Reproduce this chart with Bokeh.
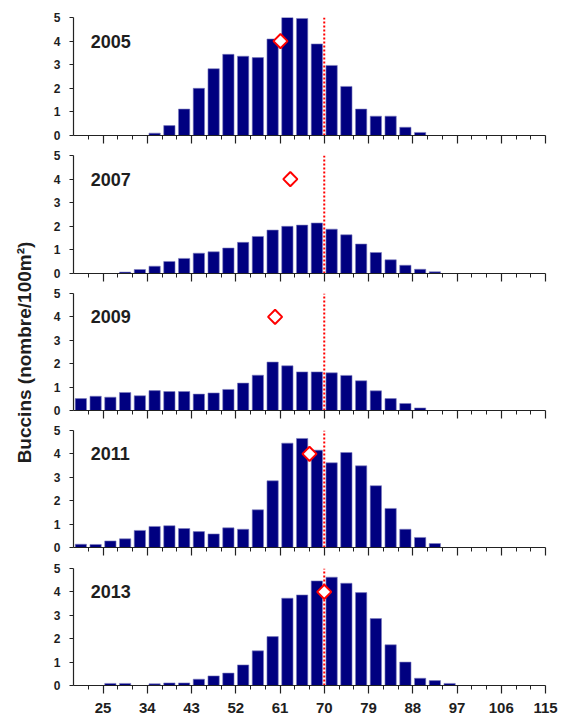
from math import pi
from bokeh.plotting import figure
from bokeh.layouts import column, row
from bokeh.models import Range1d, FixedTicker, Label
from bokeh.embed import file_html
from bokeh.resources import INLINE
from bokeh.core.properties import value

# ---------------- data ----------------
size_classes = [20.5, 23.5, 26.5, 29.5, 32.5, 35.5, 38.5, 41.5, 44.5, 47.5,
                50.5, 53.5, 56.5, 59.5, 62.5, 65.5, 68.5, 71.5, 74.5, 77.5,
                80.5, 83.5, 86.5, 89.5, 92.5, 95.5, 98.5, 101.5, 104.5, 107.5,
                110.5, 113.5]

years = ["2005", "2007", "2009", "2011", "2013"]

d2005 = [0, 0, 0, 0, 0, 0.10, 0.42, 1.12, 2.00, 2.83,
         3.44, 3.36, 3.30, 4.09, 5.00, 4.96, 3.88, 2.97, 2.08, 1.12,
         0.82, 0.82, 0.35, 0.13, 0, 0, 0, 0, 0, 0,
         0, 0]
d2007 = [0, 0, 0, 0.06, 0.17, 0.31, 0.51, 0.64, 0.86, 0.92,
         1.08, 1.32, 1.57, 1.84, 2.00, 2.05, 2.14, 1.88, 1.64, 1.25,
         0.89, 0.58, 0.35, 0.18, 0.07, 0, 0, 0, 0, 0,
         0, 0]
d2009 = [0.51, 0.61, 0.57, 0.77, 0.63, 0.85, 0.81, 0.81, 0.70, 0.75,
         0.90, 1.17, 1.51, 2.07, 1.91, 1.65, 1.65, 1.61, 1.50, 1.27,
         0.84, 0.51, 0.30, 0.11, 0, 0, 0, 0, 0, 0,
         0, 0]
d2011 = [0.14, 0.13, 0.28, 0.37, 0.73, 0.90, 0.93, 0.81, 0.68, 0.58,
         0.84, 0.78, 1.61, 2.85, 4.46, 4.66, 4.16, 3.62, 4.06, 3.49,
         2.64, 1.67, 0.78, 0.43, 0.17, 0, 0, 0, 0, 0,
         0, 0]
d2013 = [0, 0, 0.09, 0.09, 0, 0.07, 0.11, 0.11, 0.27, 0.41,
         0.53, 0.88, 1.48, 2.09, 3.73, 3.87, 4.47, 4.63, 4.37, 3.97,
         2.86, 1.74, 1.00, 0.31, 0.21, 0.09, 0, 0, 0, 0,
         0, 0]
series = [d2005, d2007, d2009, d2011, d2013]

mean_length = [61.1, 63.1, 60.0, 67.0, 70.0]   # red diamonds
mean_level = [4, 4, 4, 4, 4]
reference_length = 70                          # dotted red line

x_major_ticks = [25, 34, 43, 52, 61, 70, 79, 88, 97, 106, 115]
x_minor_ticks = [22, 28, 31, 37, 40, 46, 49, 55, 58, 64, 67, 73, 76, 82, 85,
                 91, 94, 100, 103, 109, 112]
y_ticks = [0, 1, 2, 3, 4, 5]
x_min, x_max = 19, 115
y_min, y_max = 0, 5

y_title = "Buccins (nombre/100m²)"

# ---------------- style ----------------
FONT = "Liberation Sans"
BAR_COLOR = "#000080"
RED = "#ff0000"
TXT = "#1e1e1e"

# (height, top border, bottom border) per panel
specs = [(145, 17, 10), (138, 10, 10), (137, 10, 10), (137, 10, 10), (163, 11, 35)]

panels = []
for k, (yr, vals) in enumerate(zip(years, series)):
    h, bt, bb = specs[k]
    last = (k == len(years) - 1)
    p = figure(width=520, height=h, output_backend="svg", toolbar_location=None,
               x_range=Range1d(x_min, x_max), y_range=Range1d(y_min, y_max),
               min_border_left=33, min_border_right=15,
               min_border_top=bt, min_border_bottom=bb,
               background_fill_color="white", border_fill_color="white")
    p.outline_line_color = None
    p.grid.visible = False

    p.vbar(x=size_classes, top=vals, bottom=0, width=2.3,
           fill_color=BAR_COLOR, line_color="#7f7fc0", line_width=0.6)

    p.segment(x0=[reference_length], y0=[y_min], x1=[reference_length], y1=[y_max],
              line_color=RED, line_width=2, line_dash="2 2")

    p.scatter(x=[mean_length[k]], y=[mean_level[k]], marker="square", angle=pi / 4,
              size=10, fill_color="white", line_color=RED, line_width=2)

    p.text(x=[22.5], y=[4], text=[yr], text_font=value(FONT), text_font_style="bold",
           text_font_size="18px", text_color=TXT, text_baseline="middle",
           text_align="left")

    # x axis
    xa = p.xaxis[0]
    xa.ticker = FixedTicker(ticks=x_major_ticks, minor_ticks=x_minor_ticks)
    xa.axis_line_color = "#222222"
    xa.axis_line_width = 1.2
    xa.major_tick_line_color = "#222222"
    xa.minor_tick_line_color = "#222222"
    xa.major_tick_line_width = 1.2
    xa.major_tick_in = 0
    xa.major_tick_out = 8
    xa.minor_tick_in = 0
    xa.minor_tick_out = 4
    if last:
        xa.major_label_text_font = FONT
        xa.major_label_text_font_style = "bold"
        xa.major_label_text_font_size = "15px"
        xa.major_label_text_color = TXT
        xa.major_label_standoff = 9
    else:
        xa.major_label_overrides = {t: "" for t in x_major_ticks}
        xa.major_label_standoff = 0

    # y axis
    ya = p.yaxis[0]
    ya.ticker = FixedTicker(ticks=y_ticks, minor_ticks=[])
    ya.axis_line_color = "#222222"
    ya.axis_line_width = 1.2
    ya.major_tick_line_color = "#222222"
    ya.major_tick_in = 0
    ya.major_tick_out = 4
    ya.minor_tick_out = 0
    ya.minor_tick_in = 0
    ya.major_label_text_font = FONT
    ya.major_label_text_font_style = "bold"
    ya.major_label_text_font_size = "12px"
    ya.major_label_text_color = TXT
    ya.major_label_standoff = 9
    panels.append(p)

total_h = sum(s[0] for s in specs)

lab = figure(width=40, height=total_h, output_backend="svg", toolbar_location=None,
             x_range=Range1d(0, 1), y_range=Range1d(0, 1),
             min_border=0, background_fill_color="white", border_fill_color="white")
lab.outline_line_color = None
lab.axis.visible = False
lab.grid.visible = False
lab.add_layout(Label(x=24, y=total_h - 352, x_units="screen", y_units="screen",
                     text=y_title, angle=pi / 2, text_align="center",
                     text_baseline="middle", text_font=FONT, text_font_style="bold",
                     text_font_size="19px", text_color=TXT))

layout = row(lab, column(*panels, spacing=0), spacing=0)

open("out.html", "w").write(file_html(layout, INLINE))
